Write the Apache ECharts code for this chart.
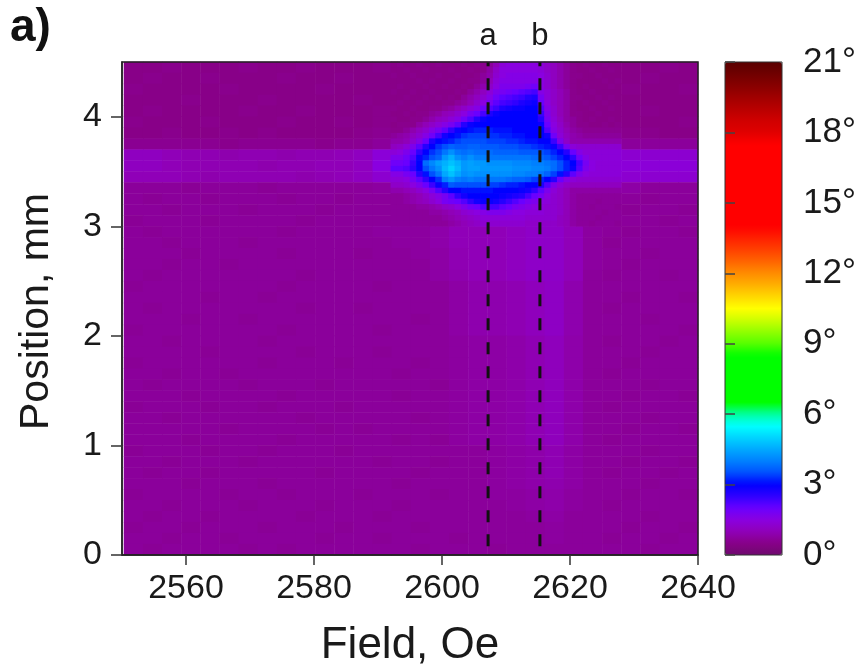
<!DOCTYPE html>
<html>
<head>
<meta charset="utf-8">
<style>
  html, body { margin: 0; background: #fff; }
  #chart { width: 865px; height: 667px; }
</style>
<script src="https://cdn.jsdelivr.net/npm/echarts@6/dist/echarts.min.js"></script>
</head>
<body>
<div id="chart"></div>
<script>
const fieldTicks = [2560, 2580, 2600, 2620, 2640];
const positionTicks = [0, 1, 2, 3, 4];
const angleTicks = [0, 3, 6, 9, 12, 15, 18, 21];
const cutFields = { a: 2607.2, b: 2615.3 };

// colour scale, one entry per 0.5 degree
const angleColors = ['#6e0a6e', '#880088', '#9000b8', '#8a00e0', '#6a00ff', '#3000ff', '#0000ff', '#0050ff', '#0080ff', '#00a8ff', '#00d4ff', '#00ffff', '#00ffa0', '#00ff00', '#00ff00', '#00ff00', '#00ff00', '#00ff00', '#55ff00', '#90ff00', '#ccff00', '#ffff00', '#ffd800', '#ffb000', '#ff8c00', '#ff6400', '#ff4000', '#ff2000', '#ff0000', '#ff0000', '#ff0000', '#ff0000', '#ff0000', '#ff0000', '#ff0000', '#ff0000', '#e00000', '#d00000', '#b80000', '#a00000', '#880000', '#700000', '#5a0000'];

// whole map: 3 Oe x 0.1 mm cells, top row first (2550..2640 Oe, 4.5..0 mm)
const wideRows = [
  [.5,.5,.55,.5,.5,.5,.55,.5,.5,.55,.5,.5,.5,.55,.5,.55,.5,.5,1,1.5,1.6,1.6,1.4,1,.7,.55,.5,.5,.55,.5],
  [.5,.55,.5,.5,.55,.5,.5,.5,.55,.5,.5,.55,.5,.5,.5,.5,.55,.55,1,1.5,1.6,1.6,1.4,1,.7,.5,.5,.55,.5,.5],
  [.55,.5,.5,.5,.5,.55,.5,.5,.5,.5,.55,.5,.5,.5,.55,.55,.55,.7,1.2,1.7,1.8,1.8,1.5,1,.8,.55,.55,.5,.5,.55],
  [.5,.5,.5,.55,.5,.5,.5,.55,.5,.5,.5,.5,.55,.5,.55,.7,.8,1,1.5,1.9,2,2,1.5,1.1,.8,.55,.5,.5,.5,.5],
  [.5,.55,.5,.5,.5,.5,.55,.5,.5,.55,.5,.5,.5,.55,.7,.9,1.1,1.5,2,2.5,2.7,2.7,1.7,1.2,.8,.55,.5,.55,.5,.5],
  [.55,.5,.5,.5,.55,.5,.5,.5,.55,.5,.5,.55,.5,.55,.8,1,1.5,2.4,3,3,3,3,2,1.3,.8,.55,.5,.5,.5,.55],
  [.5,.5,.55,.5,.5,.55,.5,.55,.5,.5,.5,.5,.55,.6,1.2,1.8,3,3.2,3.2,3.1,3,3,2.5,1.5,.9,.7,.55,.55,.5,.5],
  [.6,.6,.6,.6,.6,.55,.6,.6,.6,.6,.55,.6,.6,.7,1.6,3,3.4,3.4,3.3,3.3,3.2,3.1,3,2,1.1,.9,.7,.7,.7,.7],
  [1.1,1.1,1,.95,.95,.9,.95,.95,.9,.95,.95,1,1.1,1.4,2.2,3.8,3.9,3.9,3.8,3.7,3.6,3.5,3.3,2.6,1.6,1.3,1.3,1.3,1.3,1.3],
  [1.1,1.1,1,.95,.95,.95,.95,.9,.95,.95,1,1,1.1,1.5,2.6,4.6,4.4,4.2,4.2,4.2,4.1,4,3.8,3,1.8,1.4,1.4,1.4,1.4,1.4],
  [1,1,1,.95,.9,.95,.95,.95,.95,.9,.95,1,1.1,1.3,2,4,3.9,3.9,3.8,3.7,3.6,3.3,3,2,1.5,1.3,1.3,1.3,1.3,1.3],
  [.7,.7,.7,.65,.7,.7,.7,.65,.7,.7,.7,.7,.7,.75,.9,1.2,2.4,3,3,3,2.8,2.4,1.8,1.3,1,.8,.8,.7,.7,.7],
  [.7,.65,.7,.7,.65,.7,.7,.7,.65,.7,.7,.65,.7,.7,.7,.8,1.2,1.8,2.2,2,1.7,1.5,1.3,1.2,.9,.7,.7,.65,.7,.7],
  [.7,.7,.65,.7,.7,.7,.65,.7,.7,.7,.65,.7,.7,.7,.7,.7,.9,1.2,1.4,1.4,1.4,1.3,1.3,1.1,.8,.7,.65,.7,.7,.65],
  [.65,.7,.7,.7,.65,.7,.7,.7,.7,.65,.7,.7,.7,.7,.7,.8,.9,1.1,1.3,1.3,1.3,1.2,1.2,1,.8,.7,.7,.7,.65,.7],
  [.7,.65,.7,.7,.7,.7,.7,.7,.65,.7,.7,.7,.7,.75,.75,.75,.85,1,1,1,1.1,1.2,1.2,1,.75,.7,.65,.7,.7,.65],
  [.7,.7,.65,.7,.7,.7,.65,.7,.7,.7,.7,.7,.7,.7,.75,.75,.85,1,1,1,1.1,1.2,1.2,1,.75,.65,.7,.7,.7,.7],
  [.7,.7,.7,.65,.7,.7,.7,.7,.65,.7,.7,.7,.65,.7,.7,.75,.8,.95,1,1,1.1,1.2,1.2,1,.75,.7,.7,.65,.7,.7],
  [.7,.7,.65,.7,.7,.65,.7,.7,.7,.7,.7,.7,.7,.7,.7,.7,.8,.95,1,1,1.1,1.2,1.2,1,.75,.7,.65,.7,.7,.7],
  [.7,.65,.7,.7,.7,.7,.7,.7,.7,.65,.7,.7,.7,.7,.7,.7,.8,.9,1,1,1.1,1.2,1.2,1,.7,.65,.7,.7,.65,.7],
  [.65,.7,.7,.7,.7,.7,.7,.7,.65,.7,.7,.7,.7,.65,.7,.7,.7,.8,.9,.9,.95,1.05,1.15,.9,.7,.7,.7,.7,.7,.7],
  [.7,.7,.7,.7,.65,.7,.7,.65,.7,.7,.7,.7,.7,.7,.7,.7,.7,.8,.9,.9,.95,1.05,1.15,.9,.7,.7,.65,.7,.7,.65],
  [.7,.65,.7,.7,.7,.7,.7,.7,.7,.65,.7,.7,.65,.7,.7,.7,.7,.8,.9,.9,.95,1.05,1.15,.9,.7,.65,.7,.7,.7,.7],
  [.7,.7,.7,.65,.7,.7,.65,.7,.7,.7,.7,.7,.7,.7,.7,.65,.7,.8,.9,.9,.95,1.05,1.15,.9,.7,.7,.7,.65,.7,.7],
  [.65,.7,.7,.7,.7,.7,.7,.7,.65,.7,.7,.7,.7,.65,.7,.7,.7,.8,.9,.9,.95,1.05,1.15,.9,.7,.7,.7,.7,.7,.65],
  [.7,.7,.65,.7,.7,.7,.7,.65,.7,.7,.7,.7,.7,.7,.7,.7,.7,.75,.8,.8,.85,.95,1.05,.85,.7,.65,.7,.7,.65,.7],
  [.7,.7,.7,.7,.65,.7,.7,.7,.7,.65,.7,.7,.7,.65,.7,.7,.7,.75,.8,.8,.85,.95,1.05,.85,.7,.7,.7,.65,.7,.7],
  [.65,.7,.7,.7,.7,.7,.7,.65,.7,.7,.7,.65,.7,.7,.7,.65,.7,.75,.8,.8,.85,.95,1.05,.85,.7,.7,.65,.7,.7,.7],
  [.7,.7,.65,.7,.7,.65,.7,.7,.7,.7,.7,.7,.7,.7,.65,.7,.7,.75,.8,.8,.85,.95,1.05,.85,.7,.65,.7,.7,.7,.7],
  [.7,.65,.7,.7,.7,.7,.65,.7,.7,.7,.65,.7,.7,.7,.7,.7,.65,.75,.8,.8,.85,.95,1.05,.85,.7,.7,.7,.65,.7,.7],
  [.7,.7,.7,.65,.7,.7,.7,.7,.65,.7,.7,.7,.7,.7,.65,.7,.7,.75,.8,.8,.85,.95,1.05,.85,.7,.7,.65,.7,.7,.65],
  [.65,.7,.7,.7,.65,.7,.7,.65,.7,.7,.7,.65,.7,.7,.7,.7,.7,.75,.8,.8,.85,.95,1.05,.85,.7,.65,.7,.7,.7,.7],
  [.7,.7,.65,.7,.7,.7,.7,.7,.7,.65,.7,.7,.7,.7,.7,.65,.7,.75,.8,.8,.85,.95,1.05,.85,.7,.7,.7,.65,.7,.7],
  [.7,.7,.7,.7,.7,.65,.7,.7,.7,.7,.65,.7,.65,.7,.7,.7,.7,.75,.8,.8,.85,.95,1.05,.85,.7,.7,.65,.7,.7,.65],
  [.7,.7,.7,.65,.7,.7,.7,.7,.65,.7,.7,.7,.7,.7,.65,.7,.65,.75,.8,.8,.85,.95,1.05,.85,.7,.65,.7,.7,.7,.7],
  [.65,.7,.7,.7,.65,.7,.7,.65,.7,.7,.7,.65,.7,.7,.7,.7,.7,.7,.7,.75,.8,.85,.95,.8,.7,.7,.7,.65,.7,.7],
  [.7,.7,.65,.7,.7,.7,.65,.7,.7,.7,.7,.7,.7,.65,.7,.7,.65,.7,.7,.75,.8,.85,.95,.8,.7,.7,.65,.7,.7,.65],
  [.7,.65,.7,.7,.65,.7,.7,.7,.7,.7,.65,.7,.7,.7,.7,.65,.7,.7,.7,.75,.8,.85,.95,.8,.7,.65,.7,.7,.65,.7],
  [.7,.7,.7,.65,.7,.7,.7,.65,.7,.7,.7,.7,.7,.7,.65,.7,.7,.7,.7,.75,.8,.85,.9,.8,.7,.7,.7,.65,.7,.7],
  [.65,.7,.7,.7,.7,.65,.7,.7,.65,.7,.7,.7,.65,.7,.7,.7,.65,.7,.7,.75,.75,.8,.85,.75,.7,.7,.65,.7,.7,.65],
  [.7,.7,.65,.7,.7,.7,.65,.7,.7,.7,.65,.7,.7,.7,.65,.7,.7,.7,.7,.7,.75,.8,.85,.75,.7,.65,.7,.7,.7,.7],
  [.7,.65,.7,.7,.65,.7,.7,.7,.7,.65,.7,.7,.7,.65,.7,.7,.7,.7,.7,.7,.7,.75,.8,.7,.7,.7,.7,.65,.7,.7],
  [.65,.7,.7,.65,.7,.7,.7,.65,.7,.7,.7,.65,.7,.7,.7,.65,.7,.7,.7,.7,.7,.7,.75,.7,.7,.7,.65,.7,.7,.65],
  [.7,.7,.65,.7,.7,.65,.7,.7,.7,.7,.65,.7,.7,.65,.7,.7,.7,.65,.7,.7,.7,.7,.75,.7,.7,.65,.7,.7,.65,.7],
  [.7,.65,.7,.7,.7,.7,.65,.7,.65,.7,.7,.7,.7,.7,.7,.65,.7,.7,.7,.65,.7,.7,.7,.7,.7,.7,.7,.65,.7,.7]
];

// spot detail: 1 Oe x 0.05 mm cells, top row first (2592..2628 Oe, 4.5..3 mm)
const spotRows = [
  [.5,.55,.5,.5,.55,.5,.5,.55,.5,.5,.5,.55,.5,.55,.55,.7,1,1.4,1.5,1.5,1.5,1.5,1.5,1.4,1.2,1.1,.9,.7,.55,.5,.55,.5,.5,.55,.5,.5],
  [.5,.5,.55,.5,.5,.55,.5,.5,.5,.55,.5,.5,.55,.5,.55,.8,1.2,1.5,1.5,1.5,1.5,1.5,1.5,1.4,1.2,1.1,.9,.7,.55,.5,.5,.55,.5,.5,.55,.5],
  [.55,.5,.5,.55,.5,.5,.5,.55,.5,.5,.55,.5,.5,.55,.7,.9,1.3,1.5,1.6,1.6,1.6,1.6,1.6,1.5,1.3,1.1,.9,.7,.55,.55,.5,.5,.55,.5,.5,.5],
  [.5,.5,.5,.5,.55,.5,.55,.5,.5,.55,.5,.5,.55,.55,.7,1,1.4,1.6,1.6,1.6,1.6,1.6,1.6,1.5,1.3,1.1,.9,.7,.55,.5,.5,.5,.5,.55,.5,.55],
  [.5,.55,.5,.5,.5,.55,.5,.5,.55,.5,.5,.55,.5,.7,.9,1.2,1.5,1.7,1.7,1.7,1.7,1.8,1.9,1.5,1.3,1.1,.9,.7,.55,.5,.55,.5,.5,.5,.55,.5],
  [.55,.5,.5,.55,.5,.5,.55,.5,.5,.5,.55,.5,.7,.9,1.1,1.4,1.7,1.8,1.9,2,2.1,2.2,2.3,1.6,1.4,1.2,1,.8,.55,.5,.5,.55,.5,.5,.5,.5],
  [.5,.5,.55,.5,.5,.55,.5,.55,.5,.55,.5,.7,.9,1.1,1.3,1.6,1.9,2.1,2.2,2.3,2.4,2.6,2.7,1.8,1.4,1.2,1,.8,.55,.55,.5,.5,.55,.5,.55,.5],
  [.5,.55,.5,.5,.55,.5,.5,.5,.55,.55,.7,.8,1,1.3,1.5,1.8,2.1,2.3,2.4,2.5,2.7,2.8,2.9,2,1.5,1.2,1,.8,.55,.5,.55,.5,.5,.55,.5,.5],
  [.55,.5,.5,.55,.5,.5,.55,.55,.7,.8,1,1.2,1.4,1.6,1.9,2.2,2.4,2.7,2.8,2.9,2.9,3,3,2.2,1.6,1.3,1,.8,.55,.5,.5,.55,.5,.5,.55,.5],
  [.5,.5,.55,.5,.55,.55,.7,.8,1,1.1,1.3,1.5,1.8,2,2.3,2.7,2.9,3,3,3,3,3,3,2.4,1.7,1.3,1,.8,.55,.55,.5,.5,.55,.5,.5,.5],
  [.55,.5,.5,.55,.55,.7,.9,1.1,1.2,1.4,1.6,1.9,2.2,2.6,2.9,3,3,3,3,3,3,3,3,2.6,1.8,1.4,1.1,.8,.7,.55,.5,.55,.5,.5,.55,.5],
  [.5,.55,.55,.55,.8,1,1.2,1.4,1.6,1.8,2.1,2.6,2.9,3,3,3,3,3,3,3,3,3,3,2.9,2,1.5,1.2,.9,.7,.55,.55,.5,.5,.55,.5,.55],
  [.55,.55,.7,.9,1.1,1.3,1.6,1.8,2.1,2.5,2.9,3,3.1,3.2,3.2,3.2,3.1,3.1,3.1,3,3,3,3,3,2.2,1.6,1.3,1,.8,.7,.6,.6,.6,.6,.6,.6],
  [.7,.8,.9,1.1,1.3,1.6,1.9,2.3,2.8,3,3.1,3.3,3.4,3.4,3.4,3.3,3.3,3.2,3.2,3.1,3.1,3,3,3,2.8,1.9,1.4,1.1,.9,.8,.7,.7,.7,.7,.7,.7],
  [.9,.9,1,1.3,1.6,2,2.7,3,3.1,3.2,3.4,3.5,3.5,3.5,3.5,3.4,3.4,3.4,3.3,3.3,3.2,3.1,3.1,3,3,2.4,1.7,1.2,.9,.9,.9,.9,.9,.9,.9,.9],
  [1.1,1.2,1.4,1.7,2.1,2.6,3,3.3,3.5,3.7,3.6,3.6,3.7,3.7,3.6,3.6,3.6,3.5,3.5,3.5,3.4,3.4,3.3,3.2,3.1,2.9,2.4,1.8,1.4,1.3,1.3,1.3,1.3,1.3,1.3,1.3],
  [1.4,1.5,1.7,2,2.5,3,3.3,3.5,3.9,4.2,3.9,3.8,3.9,3.8,3.8,3.8,3.7,3.7,3.7,3.7,3.6,3.6,3.6,3.5,3.4,3.2,3,2.6,2,1.6,1.4,1.4,1.4,1.4,1.4,1.4],
  [1.7,1.7,1.9,2.2,2.9,3.2,3.5,3.7,4.3,4.6,4.2,4,4.2,4,4,3.9,3.9,3.9,3.9,3.9,3.9,3.9,3.8,3.7,3.6,3.4,3.2,3,2.5,1.9,1.6,1.4,1.4,1.4,1.4,1.4],
  [1.9,1.9,2,2.4,3,3.8,4.1,4.4,4.6,4.8,4.6,4.3,4.4,4.3,4.3,4.2,4.2,4.2,4.2,4.1,4.1,4.1,4,4,3.9,3.8,3.5,3.2,3,2.3,1.8,1.5,1.4,1.4,1.4,1.4],
  [2.1,2.1,2.2,2.5,3,3.5,3.9,4.2,4.7,5,4.7,4.3,4.4,4.4,4.3,4.3,4.3,4.3,4.3,4.2,4.2,4.2,4.1,4.1,4,3.8,3.5,3.2,2.9,2.2,1.7,1.5,1.4,1.4,1.4,1.4],
  [1.6,1.6,1.8,2,2.6,3.1,3.5,3.9,4.5,4.8,4.5,4.2,4.3,4.2,4.2,4.2,4.2,4.2,4.2,4.1,4.1,4,4,3.9,3.7,3.4,3.1,2.6,2.1,1.7,1.5,1.4,1.4,1.4,1.4,1.4],
  [1.4,1.4,1.5,1.8,2.1,2.5,3,3.3,4,4.3,4,3.9,4,3.9,3.9,3.9,3.9,3.9,3.8,3.7,3.7,3.6,3.4,3.2,3,2.6,2,1.6,1.4,1.3,1.3,1.3,1.3,1.3,1.3,1.3],
  [1.2,1.2,1.3,1.5,1.7,2,2.4,2.9,3.2,3.6,3.5,3.5,3.5,3.5,3.5,3.4,3.4,3.3,3.2,3.2,3.1,3,3,2.7,2.2,1.7,1.4,1.2,1.1,1.1,1.1,1.1,1.1,1.1,1.1,1.1],
  [.9,.9,1,1.1,1.3,1.5,1.8,2.2,2.6,3,3,3.1,3.1,3.1,3.1,3.1,3,3,3,3,2.9,2.8,2.5,2.1,1.7,1.4,1.2,1,.8,.8,.8,.8,.8,.8,.8,.8],
  [.7,.7,.8,.9,1,1.2,1.4,1.6,1.8,2.1,2.5,2.8,3,3,3,3,3,2.9,2.8,2.7,2.6,2.3,2,1.8,1.5,1.3,1.2,1,.8,.7,.7,.7,.7,.7,.7,.7],
  [.7,.7,.8,.9,1,1.1,1.3,1.5,1.8,1.9,2,2.2,2.5,2.8,2.9,2.9,2.8,2.6,2.4,2.2,2,1.8,1.7,1.5,1.4,1.3,1.2,1,.8,.7,.7,.7,.65,.7,.7,.7],
  [.7,.7,.7,.7,.8,.8,.9,1,1.2,1.3,1.5,1.7,1.9,2,2.2,2.3,2.3,2.1,2,1.8,1.7,1.6,1.5,1.4,1.3,1.3,1.2,1,.8,.7,.7,.65,.7,.7,.7,.65],
  [.7,.7,.7,.7,.7,.7,.8,.8,.9,1,1.1,1.3,1.4,1.5,1.6,1.7,1.7,1.7,1.6,1.5,1.5,1.4,1.4,1.4,1.3,1.3,1.2,1,.8,.7,.7,.7,.7,.65,.7,.7],
  [.7,.7,.7,.7,.7,.7,.7,.7,.8,.9,1,1.1,1.2,1.3,1.4,1.4,1.4,1.4,1.4,1.4,1.4,1.3,1.3,1.3,1.3,1.3,1.1,1,.8,.7,.7,.7,.65,.7,.7,.7],
  [.7,.7,.7,.7,.7,.7,.7,.7,.7,.8,.9,1,1.1,1.2,1.3,1.3,1.3,1.3,1.3,1.3,1.3,1.2,1.2,1.2,1.2,1.2,1.1,1,.8,.7,.7,.65,.7,.7,.7,.65]
];

// plot frame in pixels
const plotLeft = 122, plotTop = 62, plotWidth = 576, plotHeight = 493;
const pxPerOe = plotWidth / 90, pxPerMm = plotHeight / 4.5;

function cells(rows) {
  const out = [];
  rows.forEach((row, r) => {
    row.forEach((v, c) => {
      out.push([c, rows.length - 1 - r, v]);
    });
  });
  return out;
}

function bandAxis(count, gridIndex) {
  return {
    type: 'category',
    gridIndex: gridIndex,
    show: false,
    data: Array.from({ length: count }, (_, i) => i)
  };
}

const textColor = '#1a1a1a';
const tickFont = { color: textColor, fontSize: 34, fontFamily: 'Liberation Sans' };

const myChart = echarts.init(document.getElementById('chart'));

const option = {
  animation: false,
  title: {
    text: 'a)',
    left: 5,
    top: 0,
    textStyle: { color: '#111', fontSize: 46, fontWeight: 'bold', fontFamily: 'Liberation Sans' }
  },
  grid: [
    { left: plotLeft, top: plotTop, width: plotWidth, height: plotHeight, outerBoundsMode: 'none', show: true, backgroundColor: 'transparent', borderColor: '#222', borderWidth: 1.5, z: 10 },
    { left: plotLeft + 2, top: plotTop, width: plotWidth - 2, height: plotHeight, outerBoundsMode: 'none' },
    { left: plotLeft + 42 * pxPerOe, top: plotTop, width: 36 * pxPerOe, height: 1.5 * pxPerMm, outerBoundsMode: 'none' },
    { left: 725, top: plotTop, width: 57, height: plotHeight, outerBoundsMode: 'none', show: true, backgroundColor: 'transparent', borderColor: '#333', borderWidth: 1, z: 10 }
  ],
  xAxis: [
    {
      type: 'value',
      gridIndex: 0,
      min: 2550,
      max: 2640,
      z: 11,
      name: 'Field, Oe',
      nameLocation: 'middle',
      nameGap: 69,
      nameTextStyle: { color: textColor, fontSize: 44, fontFamily: 'Liberation Sans' },
      splitLine: { show: false },
      axisLine: { lineStyle: { color: '#222', width: 1.5 } },
      axisTick: { length: 10, customValues: fieldTicks, lineStyle: { color: '#333', width: 1.5 } },
      axisLabel: { margin: 17, customValues: fieldTicks, formatter: (v) => String(v), ...tickFont }
    },
    bandAxis(wideRows[0].length, 1),
    bandAxis(spotRows[0].length, 2),
    { type: 'value', gridIndex: 3, min: 0, max: 1, show: false }
  ],
  yAxis: [
    {
      type: 'value',
      gridIndex: 0,
      min: 0,
      max: 4.5,
      z: 11,
      name: 'Position, mm',
      nameLocation: 'middle',
      nameGap: 65,
      nameTextStyle: { color: textColor, fontSize: 41, fontFamily: 'Liberation Sans', padding: [0, 6, 0, 0] },
      splitLine: { show: false },
      axisLine: { lineStyle: { color: '#222', width: 1.5 } },
      axisTick: { length: 11, customValues: positionTicks, lineStyle: { color: '#333', width: 1.5 } },
      axisLabel: { margin: 20, padding: [6, 0, 0, 0], customValues: positionTicks, ...tickFont }
    },
    bandAxis(wideRows.length, 1),
    bandAxis(spotRows.length, 2),
    {
      type: 'value',
      gridIndex: 3,
      position: 'right',
      min: 0,
      max: 21,
      z: 11,
      splitLine: { show: false },
      axisLine: { show: false },
      axisTick: { length: 10, customValues: angleTicks, lineStyle: { color: '#444', width: 1.5 } },
      axisLabel: { margin: 21, padding: [4, 0, 0, 0], customValues: angleTicks, formatter: '{value}°', ...tickFont, fontSize: 35 }
    }
  ],
  visualMap: {
    type: 'continuous',
    min: 0,
    max: 21,
    seriesIndex: [0, 1],
    left: 725,
    top: plotTop,
    padding: 0,
    itemWidth: 57,
    itemHeight: plotHeight,
    calculable: false,
    hoverLink: false,
    showLabel: false,
    text: null,
    inRange: { color: angleColors }
  },
  series: [
    { type: 'heatmap', xAxisIndex: 1, yAxisIndex: 1, z: 1, progressive: 0, data: cells(wideRows) },
    { type: 'heatmap', xAxisIndex: 2, yAxisIndex: 2, z: 2, progressive: 0, data: cells(spotRows) }
  ].concat(Object.keys(cutFields).map((name) => {
    return {
      type: 'line',
      xAxisIndex: 0,
      yAxisIndex: 0,
      z: 5,
      symbol: 'circle',
      symbolSize: 0,
      lineStyle: { color: '#111', width: 3, type: [12, 12] },
      data: [
        [cutFields[name], 0.08],
        {
          value: [cutFields[name], 4.5],
          label: { show: true, position: 'top', distance: 10, formatter: name, color: textColor, fontSize: 31, fontFamily: 'Liberation Sans' }
        }
      ]
    };
  }))
};

myChart.setOption(option);
</script>
</body>
</html>
